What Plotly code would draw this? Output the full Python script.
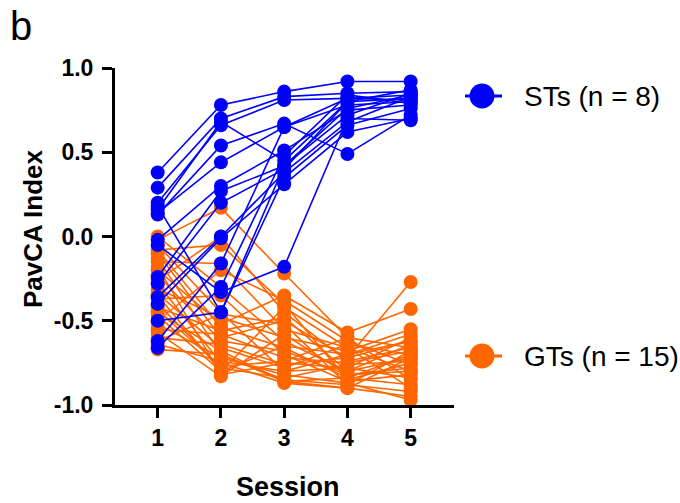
import plotly.graph_objects as go

sessions = [1, 2, 3, 4, 5]

# PavCA index per subject across sessions 1-5 (sign-trackers, blue)
st_subjects = [
    [0.38, 0.78, 0.86, 0.92, 0.92],
    [0.29, 0.70, 0.83, 0.85, 0.86],
    [0.20, 0.66, 0.81, 0.82, 0.84],
    [0.16, 0.68, 0.45, 0.80, 0.82],
    [0.13, 0.54, 0.67, 0.49, 0.72],
    [0.14, 0.44, 0.65, 0.78, 0.80],
    [-0.02, 0.30, 0.51, 0.75, 0.78],
    [-0.24, 0.27, 0.42, 0.72, 0.85],
    [-0.36, 0.00, 0.38, 0.68, 0.83],
    [-0.40, -0.01, 0.31, 0.62, 0.70],
    [-0.62, -0.16, 0.65, 0.82, 0.81],
    [-0.66, -0.30, 0.48, 0.84, 0.79],
    [-0.05, -0.33, -0.18, 0.70, 0.69],
    [-0.50, -0.45, 0.42, 0.76, 0.84],
    [-0.28, 0.20, 0.40, 0.80, 0.87],
    [0.18, -0.45, 0.35, 0.66, 0.76],
]

# PavCA index per subject across sessions 1-5 (goal-trackers, orange)
gt_subjects = [
    [0.00, -0.30, -0.62, -0.80, -0.72],
    [-0.02, 0.17, -0.22, -0.60, -0.85],
    [-0.05, -0.45, -0.80, -0.70, -0.62],
    [-0.08, -0.05, -0.40, -0.85, -0.75],
    [-0.10, -0.60, -0.50, -0.72, -0.27],
    [-0.13, -0.70, -0.85, -0.88, -0.68],
    [-0.15, -0.16, -0.55, -0.66, -0.90],
    [-0.18, -0.82, -0.75, -0.78, -0.60],
    [-0.20, -0.52, -0.35, -0.57, -0.43],
    [-0.23, -0.62, -0.68, -0.82, -0.80],
    [-0.26, 0.00, -0.45, -0.74, -0.66],
    [-0.28, -0.75, -0.87, -0.90, -0.95],
    [-0.31, -0.48, -0.60, -0.68, -0.55],
    [-0.34, -0.66, -0.78, -0.64, -0.70],
    [-0.37, -0.35, -0.70, -0.86, -0.82],
    [-0.40, -0.78, -0.84, -0.76, -0.74],
    [-0.42, -0.56, -0.48, -0.80, -0.64],
    [-0.45, -0.68, -0.86, -0.84, -0.88],
    [-0.47, -0.80, -0.65, -0.70, -0.58],
    [-0.50, -0.20, -0.38, -0.62, -0.76],
    [-0.52, -0.72, -0.82, -0.87, -0.97],
    [-0.55, -0.58, -0.72, -0.75, -0.68],
    [-0.57, -0.83, -0.58, -0.82, -0.78],
    [-0.60, -0.64, -0.76, -0.72, -0.62],
    [-0.62, -0.46, -0.52, -0.88, -0.92],
    [-0.64, -0.74, -0.80, -0.78, -0.84],
    [-0.67, -0.70, -0.86, -0.90, -0.72],
    [-0.35, -0.80, -0.42, -0.66, -0.80],
    [-0.08, -0.54, -0.66, -0.84, -0.70],
    [-0.44, -0.77, -0.74, -0.60, -0.66],
]

y_tickvals = [-1.0, -0.5, 0.0, 0.5, 1.0]
y_ticktext = ["-1.0", "-0.5", "0.0", "0.5", "1.0"]
st_label = "STs (n = 8)"
gt_label = "GTs (n = 15)"

BLUE = "#0000FF"
ORANGE = "#FF6600"
FONT = "Liberation Sans, Arial, sans-serif"

fig = go.Figure()

for subj in gt_subjects:
    fig.add_trace(go.Scatter(
        x=sessions, y=subj, mode="lines+markers",
        line=dict(color=ORANGE, width=1.6),
        marker=dict(color=ORANGE, size=14),
        showlegend=False, hoverinfo="skip", cliponaxis=False))

for subj in st_subjects:
    fig.add_trace(go.Scatter(
        x=sessions, y=subj, mode="lines+markers",
        line=dict(color=BLUE, width=1.6),
        marker=dict(color=BLUE, size=14),
        showlegend=False, hoverinfo="skip", cliponaxis=False))

axis_common = dict(
    showline=True, linecolor="black", linewidth=3,
    ticks="outside", ticklen=10, tickwidth=3, tickcolor="black",
    showgrid=False, zeroline=False,
    tickfont=dict(family=FONT, size=23, color="black", weight="bold"),
)

fig.update_xaxes(range=[0.325, 5.685], tickvals=sessions,
                 ticktext=[str(s) for s in sessions], **axis_common)
fig.update_yaxes(range=[-1.0, 1.0], tickvals=y_tickvals,
                 ticktext=y_ticktext, ticklabelstandoff=4, **axis_common)

# legend built from shapes + text
shapes = []
annotations = []
for color, ypos, label in [(BLUE, 0.9169, st_label), (ORANGE, 0.1454, gt_label)]:
    shapes.append(dict(type="line", xref="paper", yref="paper",
                       x0=1.0324, x1=1.1416, y0=ypos, y1=ypos,
                       line=dict(color=color, width=3)))
    shapes.append(dict(type="circle", xref="paper", yref="paper",
                       xsizemode="pixel", ysizemode="pixel",
                       xanchor=1.0826, yanchor=ypos,
                       x0=-12.5, x1=12.5, y0=-12.5, y1=12.5,
                       fillcolor=color, line=dict(color=color, width=0)))
    annotations.append(dict(text=label, xref="paper", yref="paper",
                            x=1.2006, y=ypos, xanchor="left", yanchor="middle",
                            showarrow=False,
                            font=dict(family=FONT, size=28, color="black")))

annotations.append(dict(text="Session", xref="paper", yref="paper",
                        x=(288 - 115) / 339, y=(405 - 487) / 337, xanchor="center", yanchor="middle",
                        showarrow=False,
                        font=dict(family=FONT, size=27, color="black", weight="bold")))
annotations.append(dict(text="PavCA Index", xref="paper", yref="paper",
                        x=(33 - 115) / 339, y=(405 - 229) / 337, xanchor="center", yanchor="middle",
                        textangle=-90, showarrow=False,
                        font=dict(family=FONT, size=26, color="black", weight="bold")))
annotations.append(dict(text="b", xref="paper", yref="paper",
                        x=(21 - 115) / 339, y=(405 - 26) / 337, xanchor="center", yanchor="middle",
                        showarrow=False,
                        font=dict(family=FONT, size=40, color="black")))

fig.update_layout(
    width=680, height=503,
    margin=dict(l=115, r=226, t=68, b=98),
    plot_bgcolor="white", paper_bgcolor="white",
    shapes=shapes, annotations=annotations,
    showlegend=False,
)

fig.write_html("out.html",
               config={"displayModeBar": False},
               post_script="document.body.style.margin='0px';document.body.style.padding='0px';")
